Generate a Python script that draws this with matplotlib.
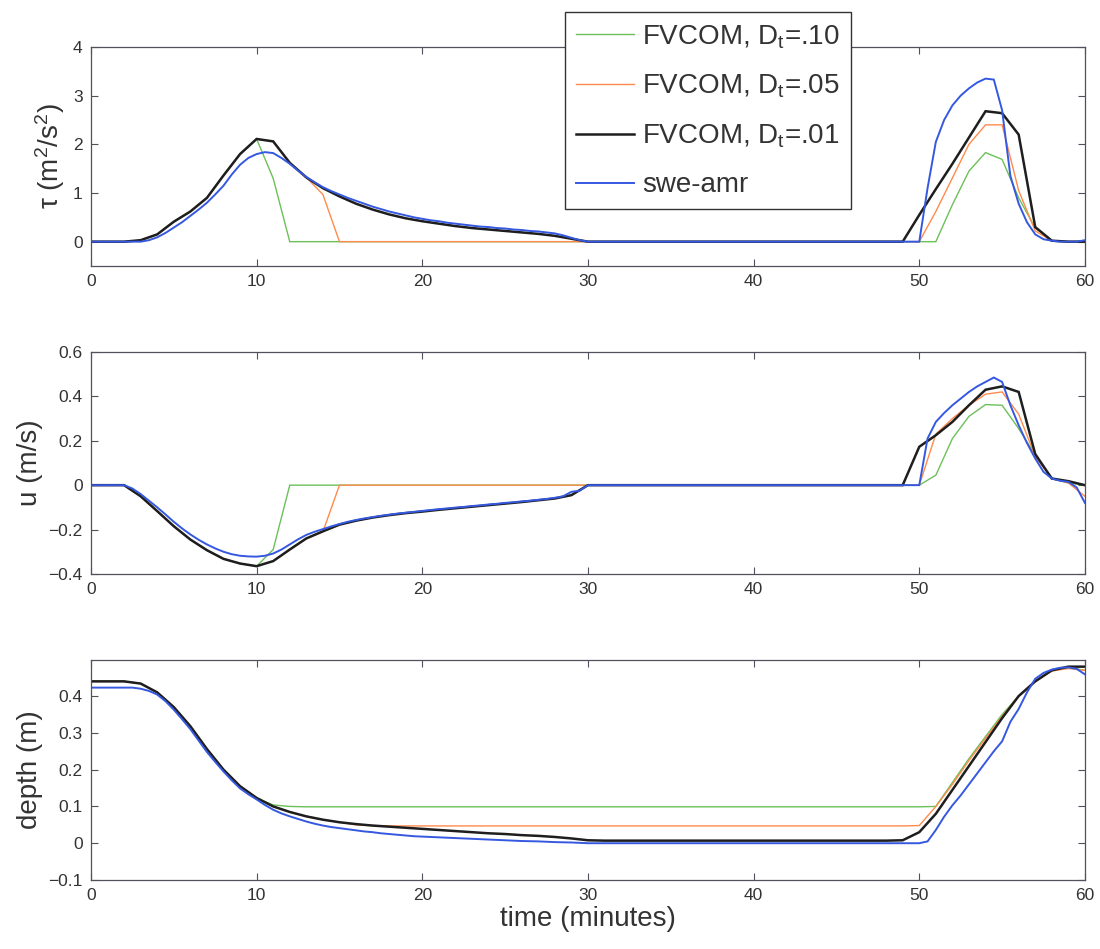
import numpy as np
import matplotlib
matplotlib.use('Agg')
import matplotlib.pyplot as plt
from matplotlib.ticker import FuncFormatter

plt.rcParams['font.family'] = ['Liberation Sans', 'DejaVu Sans']
plt.rcParams['mathtext.default'] = 'regular'

# FVCOM output is sampled once a minute, swe-amr every half minute
t_fv = np.arange(0, 61, 1)
t_amr = np.arange(0, 60.5, 0.5)

# ---- bed stress tau (m^2/s^2) ----
tau_dt10 = [0, 0, 0, 0.03, 0.15, 0.41, 0.62, 0.9, 1.36, 1.8,
            2.11, 1.3, 0, 0, 0, 0, 0, 0, 0, 0,
            0, 0, 0, 0, 0, 0, 0, 0, 0, 0,
            0, 0, 0, 0, 0, 0, 0, 0, 0, 0,
            0, 0, 0, 0, 0, 0, 0, 0, 0, 0,
            0, 0, 0.76, 1.45, 1.83, 1.69, 0.9, 0.28, 0.02, 0,
            0]
tau_dt05 = [0, 0, 0, 0.03, 0.15, 0.41, 0.62, 0.9, 1.36, 1.8,
            2.11, 2.06, 1.62, 1.32, 0.97, 0, 0, 0, 0, 0,
            0, 0, 0, 0, 0, 0, 0, 0, 0, 0,
            0, 0, 0, 0, 0, 0, 0, 0, 0, 0,
            0, 0, 0, 0, 0, 0, 0, 0, 0, 0,
            0, 0.62, 1.31, 2.0, 2.4, 2.4, 1.05, 0.22, 0.02, 0,
            0]
tau_dt01 = [0, 0, 0, 0.03, 0.15, 0.41, 0.62, 0.9, 1.36, 1.8,
            2.11, 2.06, 1.62, 1.32, 1.1, 0.93, 0.78, 0.66, 0.56, 0.48,
            0.42, 0.37, 0.32, 0.28, 0.25, 0.22, 0.19, 0.16, 0.12, 0.06,
            0, 0, 0, 0, 0, 0, 0, 0, 0, 0,
            0, 0, 0, 0, 0, 0, 0, 0, 0, 0,
            0.55, 1.08, 1.6, 2.14, 2.68, 2.64, 2.2, 0.3, 0.02, 0,
            0]
tau_amr = [0, 0, 0, 0, 0, 0, 0,
           0.03, 0.09, 0.18, 0.29, 0.4, 0.53, 0.66, 0.8, 0.97, 1.15, 1.38, 1.58, 1.72, 1.8,
           1.84, 1.82, 1.72, 1.6, 1.46, 1.33, 1.22, 1.12, 1.04, 0.97,
           0.9, 0.84, 0.78, 0.72, 0.67, 0.62, 0.58, 0.54, 0.5, 0.47,
           0.44, 0.42, 0.39, 0.37, 0.35, 0.33, 0.31, 0.3, 0.28, 0.27,
           0.25, 0.24, 0.22, 0.21, 0.19, 0.17, 0.13, 0.08, 0.03, 0,
           0, 0, 0, 0, 0, 0, 0, 0, 0, 0,
           0, 0, 0, 0, 0, 0, 0, 0, 0, 0,
           0, 0, 0, 0, 0, 0, 0, 0, 0, 0,
           0, 0, 0, 0, 0, 0, 0, 0, 0, 0,
           1.1, 2.05, 2.5, 2.8, 3.0, 3.15, 3.27, 3.35, 3.33, 2.7,
           1.35, 0.78, 0.4, 0.15, 0.05, 0.02, 0, 0, 0, 0.03]

# ---- velocity u (m/s) ----
u_dt10 = [0, 0, 0, -0.05, -0.117, -0.185, -0.245, -0.293, -0.332, -0.353,
          -0.365, -0.29, 0, 0, 0, 0, 0, 0, 0, 0,
          0, 0, 0, 0, 0, 0, 0, 0, 0, 0,
          0, 0, 0, 0, 0, 0, 0, 0, 0, 0,
          0, 0, 0, 0, 0, 0, 0, 0, 0, 0,
          0, 0.045, 0.21, 0.31, 0.363, 0.36, 0.255, 0.135, 0.03, 0.01,
          0]
u_dt05 = [0, 0, 0, -0.05, -0.117, -0.185, -0.245, -0.293, -0.332, -0.353,
          -0.365, -0.342, -0.29, -0.24, -0.21, 0, 0, 0, 0, 0,
          0, 0, 0, 0, 0, 0, 0, 0, 0, 0,
          0, 0, 0, 0, 0, 0, 0, 0, 0, 0,
          0, 0, 0, 0, 0, 0, 0, 0, 0, 0,
          0, 0.23, 0.3, 0.36, 0.41, 0.42, 0.32, 0.13, 0.03, 0.01,
          -0.05]
u_dt01 = [0, 0, 0, -0.05, -0.117, -0.185, -0.245, -0.293, -0.332, -0.353,
          -0.365, -0.342, -0.29, -0.24, -0.208, -0.178, -0.16, -0.146, -0.135, -0.126,
          -0.119, -0.111, -0.104, -0.097, -0.09, -0.083, -0.076, -0.068, -0.06, -0.045,
          0, 0, 0, 0, 0, 0, 0, 0, 0, 0,
          0, 0, 0, 0, 0, 0, 0, 0, 0, 0,
          0.173, 0.225, 0.285, 0.36, 0.43, 0.445, 0.42, 0.14, 0.03, 0.018,
          0]
u_amr = [0, 0, 0, 0, 0,
         -0.015, -0.04, -0.07, -0.1, -0.132, -0.165, -0.195, -0.222,
         -0.246, -0.267, -0.285, -0.3, -0.311, -0.318, -0.321, -0.322,
         -0.318, -0.308, -0.29, -0.267, -0.244, -0.224, -0.21, -0.198, -0.186, -0.175,
         -0.165, -0.157, -0.15, -0.144, -0.138, -0.133, -0.128, -0.124, -0.12, -0.116,
         -0.112, -0.108, -0.105, -0.101, -0.098, -0.094, -0.091, -0.087, -0.084, -0.08,
         -0.077, -0.073, -0.07, -0.066, -0.062, -0.057, -0.05, -0.03, -0.025, 0,
         0, 0, 0, 0, 0, 0, 0, 0, 0, 0,
         0, 0, 0, 0, 0, 0, 0, 0, 0, 0,
         0, 0, 0, 0, 0, 0, 0, 0, 0, 0,
         0, 0, 0, 0, 0, 0, 0, 0, 0,
         0, 0.21, 0.285, 0.325, 0.36, 0.39, 0.42, 0.445, 0.465, 0.485,
         0.465, 0.36, 0.27, 0.19, 0.12, 0.06, 0.03, 0.02, 0.015, -0.01,
         -0.08]

# ---- water depth (m) ----
depth_dt10 = [0.44, 0.44, 0.44, 0.434, 0.41, 0.37, 0.318, 0.256, 0.2, 0.155,
              0.123, 0.104, 0.1, 0.099, 0.099, 0.099, 0.099, 0.099, 0.099, 0.099,
              0.099, 0.099, 0.099, 0.099, 0.099, 0.099, 0.099, 0.099, 0.099, 0.099,
              0.099, 0.099, 0.099, 0.099, 0.099, 0.099, 0.099, 0.099, 0.099, 0.099,
              0.099, 0.099, 0.099, 0.099, 0.099, 0.099, 0.099, 0.099, 0.099, 0.099,
              0.099, 0.1, 0.165, 0.23, 0.29, 0.35, 0.4, 0.44, 0.47, 0.478,
              0.47]
depth_dt05 = [0.44, 0.44, 0.44, 0.434, 0.41, 0.37, 0.318, 0.256, 0.2, 0.155,
              0.123, 0.1, 0.085, 0.073, 0.064, 0.057, 0.05, 0.048, 0.047, 0.047,
              0.047, 0.047, 0.047, 0.047, 0.047, 0.047, 0.047, 0.047, 0.047, 0.047,
              0.047, 0.047, 0.047, 0.047, 0.047, 0.047, 0.047, 0.047, 0.047, 0.047,
              0.047, 0.047, 0.047, 0.047, 0.047, 0.047, 0.047, 0.047, 0.047, 0.047,
              0.048, 0.1, 0.16, 0.225, 0.285, 0.345, 0.4, 0.44, 0.468, 0.475,
              0.47]
depth_dt01 = [0.44, 0.44, 0.44, 0.434, 0.41, 0.37, 0.318, 0.256, 0.2, 0.155,
              0.123, 0.1, 0.085, 0.073, 0.064, 0.057, 0.052, 0.048, 0.045, 0.042,
              0.039, 0.036, 0.033, 0.03, 0.027, 0.025, 0.022, 0.02, 0.017, 0.013,
              0.008, 0.007, 0.007, 0.007, 0.007, 0.007, 0.007, 0.007, 0.007, 0.007,
              0.007, 0.007, 0.007, 0.007, 0.007, 0.007, 0.007, 0.007, 0.007, 0.008,
              0.03, 0.08, 0.145, 0.21, 0.275, 0.34, 0.4, 0.44, 0.47, 0.48,
              0.48]
depth_amr = [0.423, 0.423, 0.423, 0.423, 0.423, 0.423,
             0.42, 0.414, 0.404, 0.386, 0.363, 0.337, 0.31, 0.279, 0.248, 0.221,
             0.195, 0.171, 0.149, 0.133, 0.119,
             0.104, 0.091, 0.081, 0.073, 0.066, 0.059, 0.053, 0.048, 0.044, 0.041,
             0.038, 0.035, 0.032, 0.03, 0.027, 0.025, 0.023, 0.021, 0.019, 0.018,
             0.017, 0.016, 0.015, 0.014, 0.013, 0.012, 0.011, 0.01, 0.009, 0.008,
             0.007, 0.006, 0.0055, 0.005, 0.004, 0.003, 0.0025, 0.002, 0.001, 0,
             0, 0, 0, 0, 0, 0, 0, 0, 0, 0,
             0, 0, 0, 0, 0, 0, 0, 0, 0, 0,
             0, 0, 0, 0, 0, 0, 0, 0, 0, 0,
             0, 0, 0, 0, 0, 0, 0, 0, 0, 0,
             0.005, 0.036, 0.072, 0.103, 0.13, 0.16, 0.19, 0.22, 0.25, 0.277,
             0.33, 0.365, 0.41, 0.447, 0.463, 0.472, 0.477, 0.478, 0.474, 0.459]

labels = ['FVCOM, D$_t$=.10', 'FVCOM, D$_t$=.05', 'FVCOM, D$_t$=.01', 'swe-amr']
colors = ['#6cc05a', '#ff8a4c', '#1e1e1e', '#3558e0']
widths = [1.0, 1.0, 1.8, 1.4]

panels = [
    ([tau_dt10, tau_dt05, tau_dt01, tau_amr], r'$\tau$ (m$^2$/s$^2$)',
     (-0.5, 4), [0, 1, 2, 3, 4]),
    ([u_dt10, u_dt05, u_dt01, u_amr], 'u (m/s)',
     (-0.4, 0.6), [-0.4, -0.2, 0, 0.2, 0.4, 0.6]),
    ([depth_dt10, depth_dt05, depth_dt01, depth_amr], 'depth (m)',
     (-0.1, 0.498), [-0.1, 0, 0.1, 0.2, 0.3, 0.4]),
]
# axes boxes in figure fractions [left, bottom, width, height]
boxes = [[0.0827, 0.7197, 0.9036, 0.2308],
         [0.0827, 0.3952, 0.9036, 0.2339],
         [0.0827, 0.0727, 0.9036, 0.2318]]

fmt = FuncFormatter(lambda v, p: ('%g' % round(v, 3)).replace('-', '\u2212'))
frame_col = '#50505e'
text_col = '#333333'

fig = plt.figure(figsize=(11, 9.49), dpi=100)
handles = []
for (series, ylab, ylim, yticks), box in zip(panels, boxes):
    ax = fig.add_axes(box)
    for k, (vals, c, lw) in enumerate(zip(series, colors, widths)):
        t = t_amr if k == 3 else t_fv
        ln, = ax.plot(t, vals, color=c, lw=lw, solid_joinstyle='miter')
        if len(handles) < 4:
            handles.append(ln)
    ax.set_xlim(0, 60)
    ax.set_ylim(*ylim)
    ax.set_xticks(range(0, 61, 10))
    ax.set_yticks(yticks)
    ax.yaxis.set_major_formatter(fmt)
    ax.tick_params(direction='in', top=True, right=True, length=5, width=0.8,
                   pad=6, labelsize=12.5, color=frame_col, labelcolor=text_col)
    for sp in ax.spines.values():
        sp.set_color(frame_col)
        sp.set_linewidth(0.9)
    ax.set_ylabel(ylab, fontsize=20, color=text_col)
    last_ax = ax

last_ax.set_xlabel('time (minutes)', fontsize=20, color=text_col, labelpad=2)

leg = fig.legend(handles, labels, loc='upper left',
                 bbox_to_anchor=(565 / 1100, 1 - 12 / 949), fontsize=20,
                 frameon=True, fancybox=False, edgecolor='#333333', framealpha=1,
                 handlelength=2.1, handletextpad=0.29, labelspacing=0.8,
                 borderpad=0.4, borderaxespad=0)
leg.get_frame().set_linewidth(1.0)
for txt in leg.get_texts():
    txt.set_color(text_col)

fig.savefig('out.png', dpi=100, facecolor='white')
